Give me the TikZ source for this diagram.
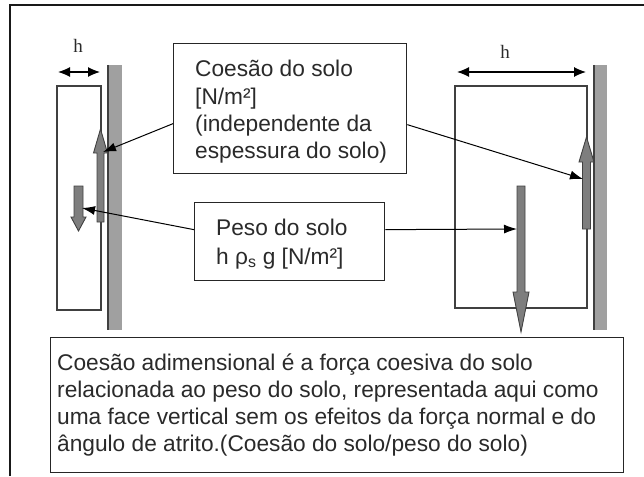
\documentclass[tikz,border=0pt]{standalone}
\usepackage{fontspec}
\setmainfont{Liberation Sans}
\newfontfamily\hfont{Liberation Serif}
\usetikzlibrary{arrows.meta}
\definecolor{wallgray}{HTML}{A0A0A0}
\definecolor{arrgray}{HTML}{7E7E7E}
\definecolor{edgegray}{HTML}{404040}
\definecolor{txtcol}{HTML}{2A2A2A}
\newcommand\blockarrow[7]{% cx, start y, head base y, tip y, half shaft, half head, name
  \draw[blockarr] (#1-#5,#2) -- (#1-#5,#3) -- (#1-#6,#3) -- (#1,#4) -- (#1+#6,#3) -- (#1+#5,#3) -- (#1+#5,#2) -- cycle;
  \coordinate (#7) at (#1,#2);}
\begin{document}
\begin{tikzpicture}[x=1pt,y=-1pt,
  box/.style={draw=black!85, line width=1.3pt, inner sep=0, anchor=north west, fill=white},
  txt/.style={inner sep=0, anchor=base west, font=\fontsize{22.7}{27}\selectfont, text=txtcol},
  soil/.style={draw=edgegray, line width=1.3pt},
  wall/.style={fill=wallgray, draw=none},
  walledge/.style={draw=edgegray, line width=1.5pt},
  blockarr/.style={fill=arrgray, draw=edgegray, line width=0.9pt, line join=miter},
  ptr/.style={-{Latex[length=13pt,width=9pt]}, line width=1pt, black},
  dim/.style={{Latex[length=12pt,width=10pt]}-{Latex[length=12pt,width=10pt]}, line width=1.2pt, black},
  hlab/.style={font=\hfont\fontsize{19}{21}\selectfont, inner sep=0, text=txtcol}]
\useasboundingbox (0,0) rectangle (644,476);
% outer frame
\draw[line width=1.8pt, black!90] (10,476) -- (10,5) -- (644,5);

% walls
\fill[wall] (108,65) rectangle (122,330);
\draw[walledge] (108,65) -- (108,330);
\fill[wall] (594,65) rectangle (607,330);
\draw[walledge] (594,65) -- (594,330);

% soil blocks
\draw[soil] (57,86) rectangle (101,310);
\draw[soil] (455,86) rectangle (587,308);

% h dimensions
\coordinate (hL1) at (58,72); \coordinate (hL2) at (100,72);
\coordinate (hR1) at (457,72); \coordinate (hR2) at (586,72);
\draw[dim] (hL1) -- (hL2);
\draw[dim] (hR1) -- (hR2);
\node[hlab] (hL) at (78,46) {h};
\node[hlab] (hR) at (505,52) {h};

% block arrows
\blockarrow{100.5}{222}{153}{129}{3.5}{7}{upL}
\blockarrow{78.5}{186}{217}{231}{4.5}{7.5}{dnL}
\blockarrow{586.5}{229}{162}{137}{4}{7.5}{upR}
\blockarrow{521}{186}{292}{332}{4}{8}{dnR}

% boxes
\node[box, minimum width=233pt, minimum height=130pt] (cbox) at (173,43) {};
\node[box, minimum width=190pt, minimum height=78pt] (pbox) at (194,202) {};
\node[box, minimum width=573pt, minimum height=135pt] (bbox) at (50,337) {};

% texts
\foreach \t [count=\i] in {{Coesão do solo},{[N/m²]},{(independente da},{espessura do solo)}}
  \node[txt] (ct\i) at (195,{77+27*(\i-1)}) {\t};
\node[txt] (pt1) at (216,235) {Peso do solo};
\node[txt] (pt2) at (216,264) {h ρ\textsubscript{s} g [N/m²]};
\foreach \t [count=\i] in {{Coesão adimensional é a força coesiva do solo},{relacionada ao peso do solo, representada aqui como},{uma face vertical sem os efeitos da força normal e do},{ângulo de atrito.(Coesão do solo/peso do solo)}}
  \node[txt] (bt\i) at (57,{370+27*(\i-1)}) {\t};

% pointer targets
\coordinate (tCL) at (103,152);
\coordinate (tCR) at (583,179);
\coordinate (tPL) at (82,208);
\coordinate (tPR) at (517,229);
\draw[ptr] ([yshift=-15pt]cbox.west) -- (tCL);
\draw[ptr] ([yshift=-16pt]cbox.east) -- (tCR);
\draw[ptr] ([yshift=12pt]pbox.west) -- (tPL);
\draw[ptr] ([yshift=12pt]pbox.east) -- (tPR);
\end{tikzpicture}
\end{document}
